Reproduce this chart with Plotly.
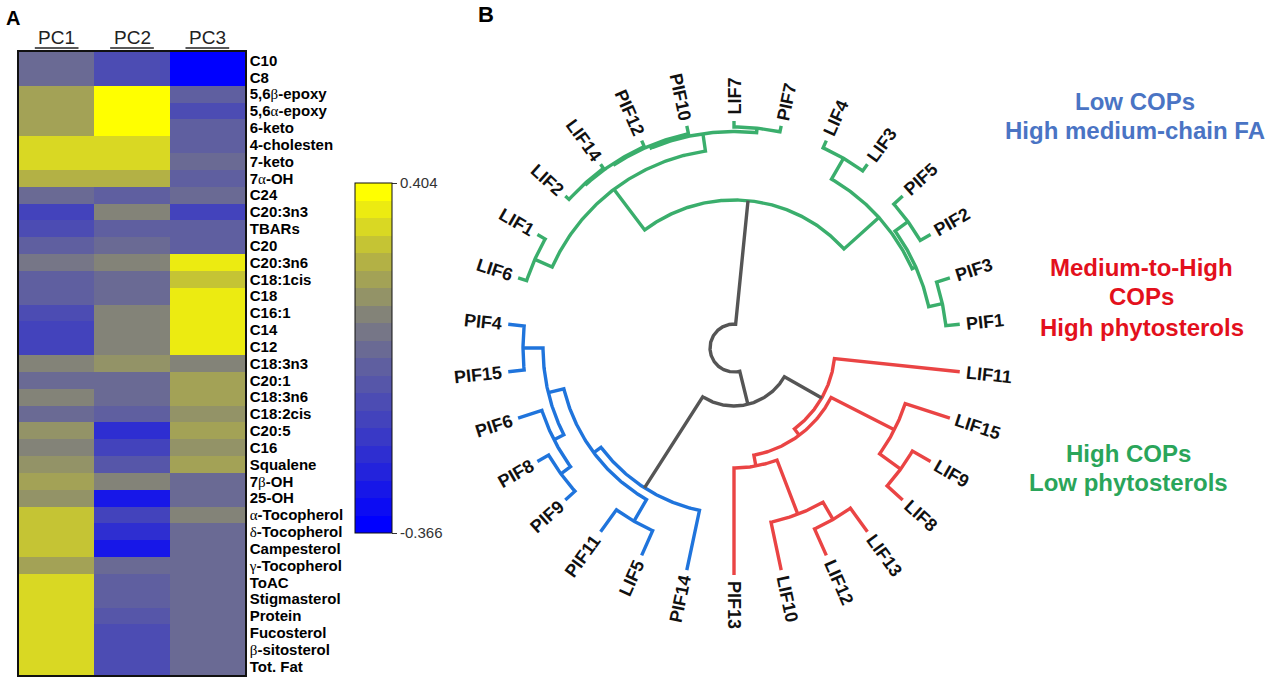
import math
import plotly.graph_objects as go

W, H = 1280, 683
FONT = "Liberation Sans, Arial, sans-serif"

# ---------------- Panel A data ----------------
row_labels = ["C10", "C8", "5,6β-epoxy", "5,6α-epoxy", "6-keto", "4-cholesten", "7-keto",
              "7α-OH", "C24", "C20:3n3", "TBARs", "C20", "C20:3n6", "C18:1cis", "C18",
              "C16:1", "C14", "C12", "C18:3n3", "C20:1", "C18:3n6", "C18:2cis", "C20:5",
              "C16", "Squalene", "7β-OH", "25-OH", "α-Tocopherol", "δ-Tocopherol",
              "Campesterol", "γ-Tocopherol", "ToAC", "Stigmasterol", "Protein",
              "Fucosterol", "β-sitosterol", "Tot. Fat"]
pc_labels = ["PC1", "PC2", "PC3"]
pc1 = [0.045, 0.045, 0.191, 0.191, 0.191, 0.291, 0.291, 0.245, 0.052, -0.110, -0.088,
       0.019, 0.068, 0.019, 0.019, -0.088, -0.130, -0.130, 0.117, 0.052, 0.101, 0.052,
       0.170, 0.123, 0.170, 0.197, 0.143, 0.271, 0.271, 0.271, 0.210, 0.312, 0.312,
       0.312, 0.312, 0.312, 0.312]
pc2 = [-0.075, -0.075, 0.404, 0.404, 0.404, 0.302, 0.302, 0.245, -0.003, 0.101, 0.019,
       0.035, 0.101, 0.035, 0.035, 0.101, 0.101, 0.101, 0.170, 0.035, 0.035, -0.003,
       -0.174, -0.110, -0.045, 0.101, -0.261, -0.130, -0.174, -0.261, 0.052, 0.019,
       0.019, -0.045, -0.088, -0.088, -0.088]
pc3 = [-0.366, -0.366, 0.019, -0.066, 0.019, 0.019, 0.035, 0.019, 0.052, -0.110, 0.019,
       0.019, 0.332, 0.260, 0.332, 0.332, 0.332, 0.332, 0.130, 0.210, 0.210, 0.170,
       0.210, 0.143, 0.210, 0.035, 0.035, 0.101, 0.052, 0.052, 0.052, 0.052, 0.052,
       0.052, 0.052, 0.052, 0.052]
z_min, z_max = -0.366, 0.404
cbar_ticks = [-0.366, 0.404]
cbar_ticktext = ["-0.366", "0.404"]

# colour scale (blue -> slate -> grey -> olive -> yellow), 20 discrete bands
cs_pos = [0.0, 0.25, 0.5, 0.62, 0.8, 1.0]
cs_rgb = [(0, 0, 255), (55, 55, 200), (100, 100, 155), (128, 128, 124), (182, 180, 66), (255, 255, 0)]
n_bands = 20

# ---------------- Panel B data ----------------
leaf_names = ["PIF1", "PIF3", "PIF2", "PIF5", "LIF3", "LIF4", "PIF7", "LIF7", "PIF10", "PIF12",
              "LIF14", "LIF2", "LIF1", "LIF6", "PIF4", "PIF15", "PIF6", "PIF8", "PIF9", "PIF11",
              "LIF5", "PIF14", "PIF13", "LIF10", "LIF12", "LIF13", "LIF8", "LIF9", "LIF15", "LIF11"]
leaf_start_deg = 6.0
leaf_step_deg = 12.0
leaf_radius = 227.0
merge_names = ["g1", "g2", "g3", "g4", "g5", "g6", "g7", "g8", "g9", "g10", "g11", "g12", "g13",
               "b1", "b2", "b3", "b4", "b5", "b6", "b7",
               "r1", "r2", "r3", "r4", "r5", "r6", "r7",
               "x1", "root"]
merge_a = ["PIF1", "PIF2", "g1", "LIF3", "g3", "PIF7", "LIF14", "PIF12", "PIF10", "g6", "LIF1", "g10", "g5",
           "PIF4", "PIF8", "PIF6", "b1", "PIF11", "b4", "b6",
           "LIF12", "LIF10", "PIF13", "LIF8", "r4", "r3", "r6",
           "b7", "g13"]
merge_b = ["PIF3", "PIF5", "g2", "LIF4", "g4", "LIF7", "LIF2", "g7", "g8", "g9", "LIF6", "g11", "g12",
           "PIF15", "PIF9", "b2", "b3", "LIF5", "b5", "PIF14",
           "LIF13", "r1", "r2", "LIF9", "LIF15", "r5", "LIF11",
           "r7", "x1"]
merge_radius = [213, 215, 199, 219, 195, 221, 222, 220.5, 219, 216.5, 218, 199, 148,
                211, 214, 202, 191, 200, 175, 166,
                198, 178, 120, 206, 180, 109, 101,
                58, 24]
merge_group = ["green"] * 13 + ["blue"] * 7 + ["red"] * 7 + ["gray"] * 2
group_colors = {"green": "#3aae6c", "blue": "#1f74dc", "red": "#ea4444", "gray": "#555555"}

cluster_text = [
    ("Low COPs", 1135, 101, "#4a74c4"),
    ("High medium-chain FA", 1135, 130, "#4a74c4"),
    ("Medium-to-High", 1141, 267, "#e3101c"),
    ("COPs", 1141, 297, "#e3101c"),
    ("High phytosterols", 1142, 327, "#e3101c"),
    ("High COPs", 1128, 453, "#2aa55a"),
    ("Low phytosterols", 1128, 482, "#2aa55a"),
]

# ---------------- build figure ----------------
fig = go.Figure()


def lerp_rgb(t):
    for i in range(len(cs_pos) - 1):
        if cs_pos[i] <= t <= cs_pos[i + 1]:
            f = (t - cs_pos[i]) / (cs_pos[i + 1] - cs_pos[i])
            c = [round(cs_rgb[i][k] + f * (cs_rgb[i + 1][k] - cs_rgb[i][k])) for k in range(3)]
            return "rgb(%d,%d,%d)" % tuple(c)
    return "rgb(%d,%d,%d)" % cs_rgb[-1]


colorscale = []
for i in range(n_bands):
    c = lerp_rgb(i / (n_bands - 1))
    colorscale.append([i / n_bands, c])
    colorscale.append([(i + 1) / n_bands, c])


def greek(s):
    out = ""
    for ch in s:
        if ch in "αβγδ":
            out += "<span style=\"font-family:'Liberation Serif',serif;font-weight:normal\">%s</span>" % ch
        else:
            out += ch
    return out


z = [[a, b, c] for a, b, c in zip(pc1, pc2, pc3)]
fig.add_trace(go.Heatmap(
    z=z, x=list(range(len(pc_labels))), y=list(range(len(row_labels))),
    zmin=z_min, zmax=z_max, colorscale=colorscale, xaxis="x", yaxis="y",
    hoverinfo="skip",
    colorbar=dict(x=355 / W, xanchor="left", y=1 - 358 / H, yanchor="middle",
                  len=350 / H, lenmode="fraction", thickness=37, thicknessmode="pixels",
                  outlinewidth=1, outlinecolor="#111", xpad=0, ypad=0,
                  tickvals=cbar_ticks, ticktext=cbar_ticktext, ticks="outside",
                  ticklen=5, tickwidth=1, tickcolor="#333",
                  tickfont=dict(family=FONT, size=15, color="#333")),
))

# ---- dendrogram geometry ----
ang = {n: leaf_start_deg + leaf_step_deg * i for i, n in enumerate(leaf_names)}
rad = {n: leaf_radius for n in leaf_names}
for n, a, b, r in zip(merge_names, merge_a, merge_b, merge_radius):
    ang[n] = (ang[a] + ang[b]) / 2.0
    rad[n] = r


def pt(r, deg):
    t = math.radians(deg)
    return r * math.cos(t), r * math.sin(t)


paths = {g: ([], []) for g in group_colors}
for n, a, b, g in zip(merge_names, merge_a, merge_b, merge_group):
    if ang[a] > ang[b]:
        a, b = b, a
    xs, ys = paths[g]
    r = rad[n]
    p = pt(rad[a], ang[a]); xs.append(p[0]); ys.append(p[1])
    span = ang[b] - ang[a]
    steps = max(2, int(span * 2) + 2)
    for k in range(steps + 1):
        d = ang[a] + span * k / steps
        p = pt(r, d); xs.append(p[0]); ys.append(p[1])
    p = pt(rad[b], ang[b]); xs.append(p[0]); ys.append(p[1])
    xs.append(None); ys.append(None)

for g, (xs, ys) in paths.items():
    fig.add_trace(go.Scatter(x=xs, y=ys, mode="lines", xaxis="x2", yaxis="y2",
                             line=dict(color=group_colors[g], width=3.4),
                             hoverinfo="skip", showlegend=False))

# leaf labels
char_w = {"P": 0.667, "I": 0.278, "F": 0.611, "L": 0.611}
leaf_font = 18
annotations = []
for n in leaf_names:
    th = ang[n]
    w = sum(char_w.get(ch, 0.556) for ch in n) * leaf_font
    rc = leaf_radius + 6 + w / 2
    x, y = pt(rc, th)
    if 90 < th < 270:
        ta = 180 - th
    else:
        ta = -th
    while ta > 180:
        ta -= 360
    while ta <= -180:
        ta += 360
    annotations.append(dict(x=x, y=y, xref="x2", yref="y2", text="<b>%s</b>" % n,
                            textangle=ta, showarrow=False, xanchor="center", yanchor="middle",
                            font=dict(family=FONT, size=leaf_font, color="#111")))

for txt, px, py, col in cluster_text:
    annotations.append(dict(x=px / W, y=1 - py / H, xref="paper", yref="paper",
                            text="<b>%s</b>" % txt, showarrow=False, xanchor="center",
                            yanchor="middle", font=dict(family=FONT, size=24, color=col)))

# panel letters
annotations.append(dict(x=13 / W, y=1 - 18 / H, xref="paper", yref="paper", text="<b>A</b>",
                        showarrow=False, xanchor="center", yanchor="middle",
                        font=dict(family=FONT, size=20, color="#000")))
annotations.append(dict(x=486 / W, y=1 - 15 / H, xref="paper", yref="paper", text="<b>B</b>",
                        showarrow=False, xanchor="center", yanchor="middle",
                        font=dict(family=FONT, size=22, color="#000")))

# PC headers (underlined)
shapes = []
for i, lab in enumerate(pc_labels):
    annotations.append(dict(x=i, y=1 - 38 / H, xref="x", yref="paper", text=lab,
                            showarrow=False, xanchor="center", yanchor="middle",
                            font=dict(family=FONT, size=19, color="#222")))
    shapes.append(dict(type="line", xref="x", yref="paper", x0=i - 0.29, x1=i + 0.29,
                       y0=1 - 48 / H, y1=1 - 48 / H, line=dict(color="#222", width=1.3)))

cx, cy = 734, 348
fig.update_layout(
    width=W, height=H, margin=dict(l=0, r=0, t=0, b=0),
    paper_bgcolor="white", plot_bgcolor="white", showlegend=False,
    annotations=annotations, shapes=shapes,
    xaxis=dict(domain=[19 / W, 245 / W], range=[-0.5, 2.5], showticklabels=False,
               showgrid=False, zeroline=False, showline=True, mirror=True,
               linecolor="#111", linewidth=1.5, ticks=""),
    yaxis=dict(domain=[1 - 675 / H, 1 - 52 / H], range=[len(row_labels) - 0.5, -0.5],
               side="right", tickvals=list(range(len(row_labels))),
               ticktext=[greek(s) for s in row_labels], ticks="",
               tickfont=dict(family=FONT, size=15, color="#000", weight="bold"),
               showgrid=False, zeroline=False, showline=True, mirror=True,
               linecolor="#111", linewidth=1.5),
    xaxis2=dict(domain=[420 / W, 1], range=[420 - cx, W - cx], visible=False),
    yaxis2=dict(domain=[0, 1], range=[-(H - cy), cy], visible=False),
)

fig.write_html("out.html", config={"displayModeBar": False},
               post_script="document.body.style.margin='0';document.body.style.overflow='hidden';")
